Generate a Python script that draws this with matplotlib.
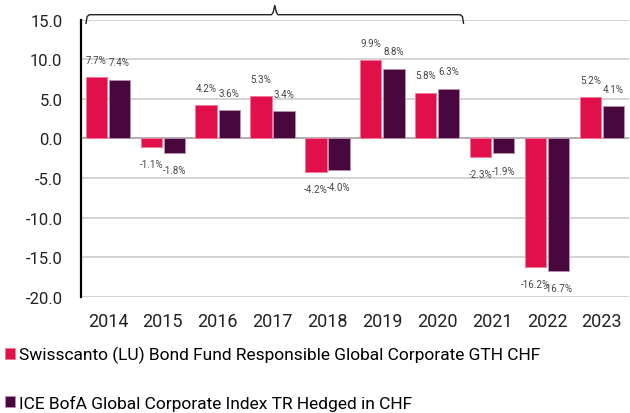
import numpy as np
import matplotlib
matplotlib.use("Agg")
from matplotlib import pyplot as plt

years = ['2014', '2015', '2016', '2017', '2018', '2019', '2020', '2021', '2022', '2023']
fund = [7.7, -1.1, 4.2, 5.3, -4.2, 9.9, 5.8, -2.3, -16.2, 5.2]
index = [7.4, -1.8, 3.6, 3.4, -4.0, 8.8, 6.3, -1.9, -16.7, 4.1]
fund_name = 'Swisscanto (LU) Bond Fund Responsible Global Corporate GTH CHF'
index_name = 'ICE BofA Global Corporate Index TR Hedged in CHF'
yticks = [15, 10, 5, 0, -5, -10, -15, -20]

pink = '#e2104a'
purple = '#48083d'

plt.rcParams['font.family'] = ['Roboto', 'DejaVu Sans']

fig = plt.figure(figsize=(6.3, 4.14), dpi=100)
ax = fig.add_axes([0.1278, 0.281, 0.871, 0.669])

x = np.arange(len(years))
w = 0.39
off = 0.21
b1 = ax.bar(x - off, fund, w, color=pink, edgecolor='#f27a9a', linewidth=0.7, zorder=3, label=fund_name)
b2 = ax.bar(x + off, index, w, color=purple, edgecolor='#b58fb0', linewidth=0.7, zorder=3, label=index_name)

# value labels above/below each bar
for bars, vals in ((b1, fund), (b2, index)):
    for rect, v in zip(bars, vals):
        cx = rect.get_x() + rect.get_width() / 2
        dy = 12.5 if v >= 0 else -12.5
        ax.annotate(f'{v:.1f}%', (cx, v), xytext=(0, dy), textcoords='offset points',
                    ha='center', va='center', fontsize=7, color='#444444')

ax.set_xlim(-0.5, len(years) - 0.5)
ax.set_ylim(-20, 15)
ax.set_yticks(yticks)
ax.set_yticklabels([f'{t:.1f}' for t in yticks])
ax.set_xticks(x)
ax.set_xticklabels(years)
ax.tick_params(axis='y', length=0, pad=13, labelsize=12, colors='#222222')
ax.tick_params(axis='x', length=0, pad=11, labelsize=13, colors='#222222')

ax.grid(axis='y', color='#c8c8c8', linewidth=1.1, zorder=0)
ax.axhline(0, color='#a8a8a8', linewidth=1.1, zorder=2)
for s in ['top', 'right', 'bottom']:
    ax.spines[s].set_visible(False)
ax.spines['left'].set_linewidth(1.6)
ax.spines['left'].set_color('black')

# bracket over 2014-2020
bx = [-0.40, -0.38, -0.34, 2.98, 3.01, 3.04, 3.07, 3.10, 6.42, 6.46, 6.48]
by = [14.55, 15.4, 15.63, 15.63, 15.9, 16.8, 15.9, 15.63, 15.63, 15.4, 14.55]
ax.plot(bx, by, color='#222222', linewidth=1.0, clip_on=False, zorder=4)

fig.legend(handles=[b1, b2], labels=[fund_name, index_name], loc='upper left',
           bbox_to_anchor=(0.008, 0.162), frameon=False, fontsize=12.5,
           handlelength=0.58, handleheight=0.58, handletextpad=0.25,
           labelspacing=1.82, borderpad=0, borderaxespad=0)

fig.savefig('out.png', dpi=100)
